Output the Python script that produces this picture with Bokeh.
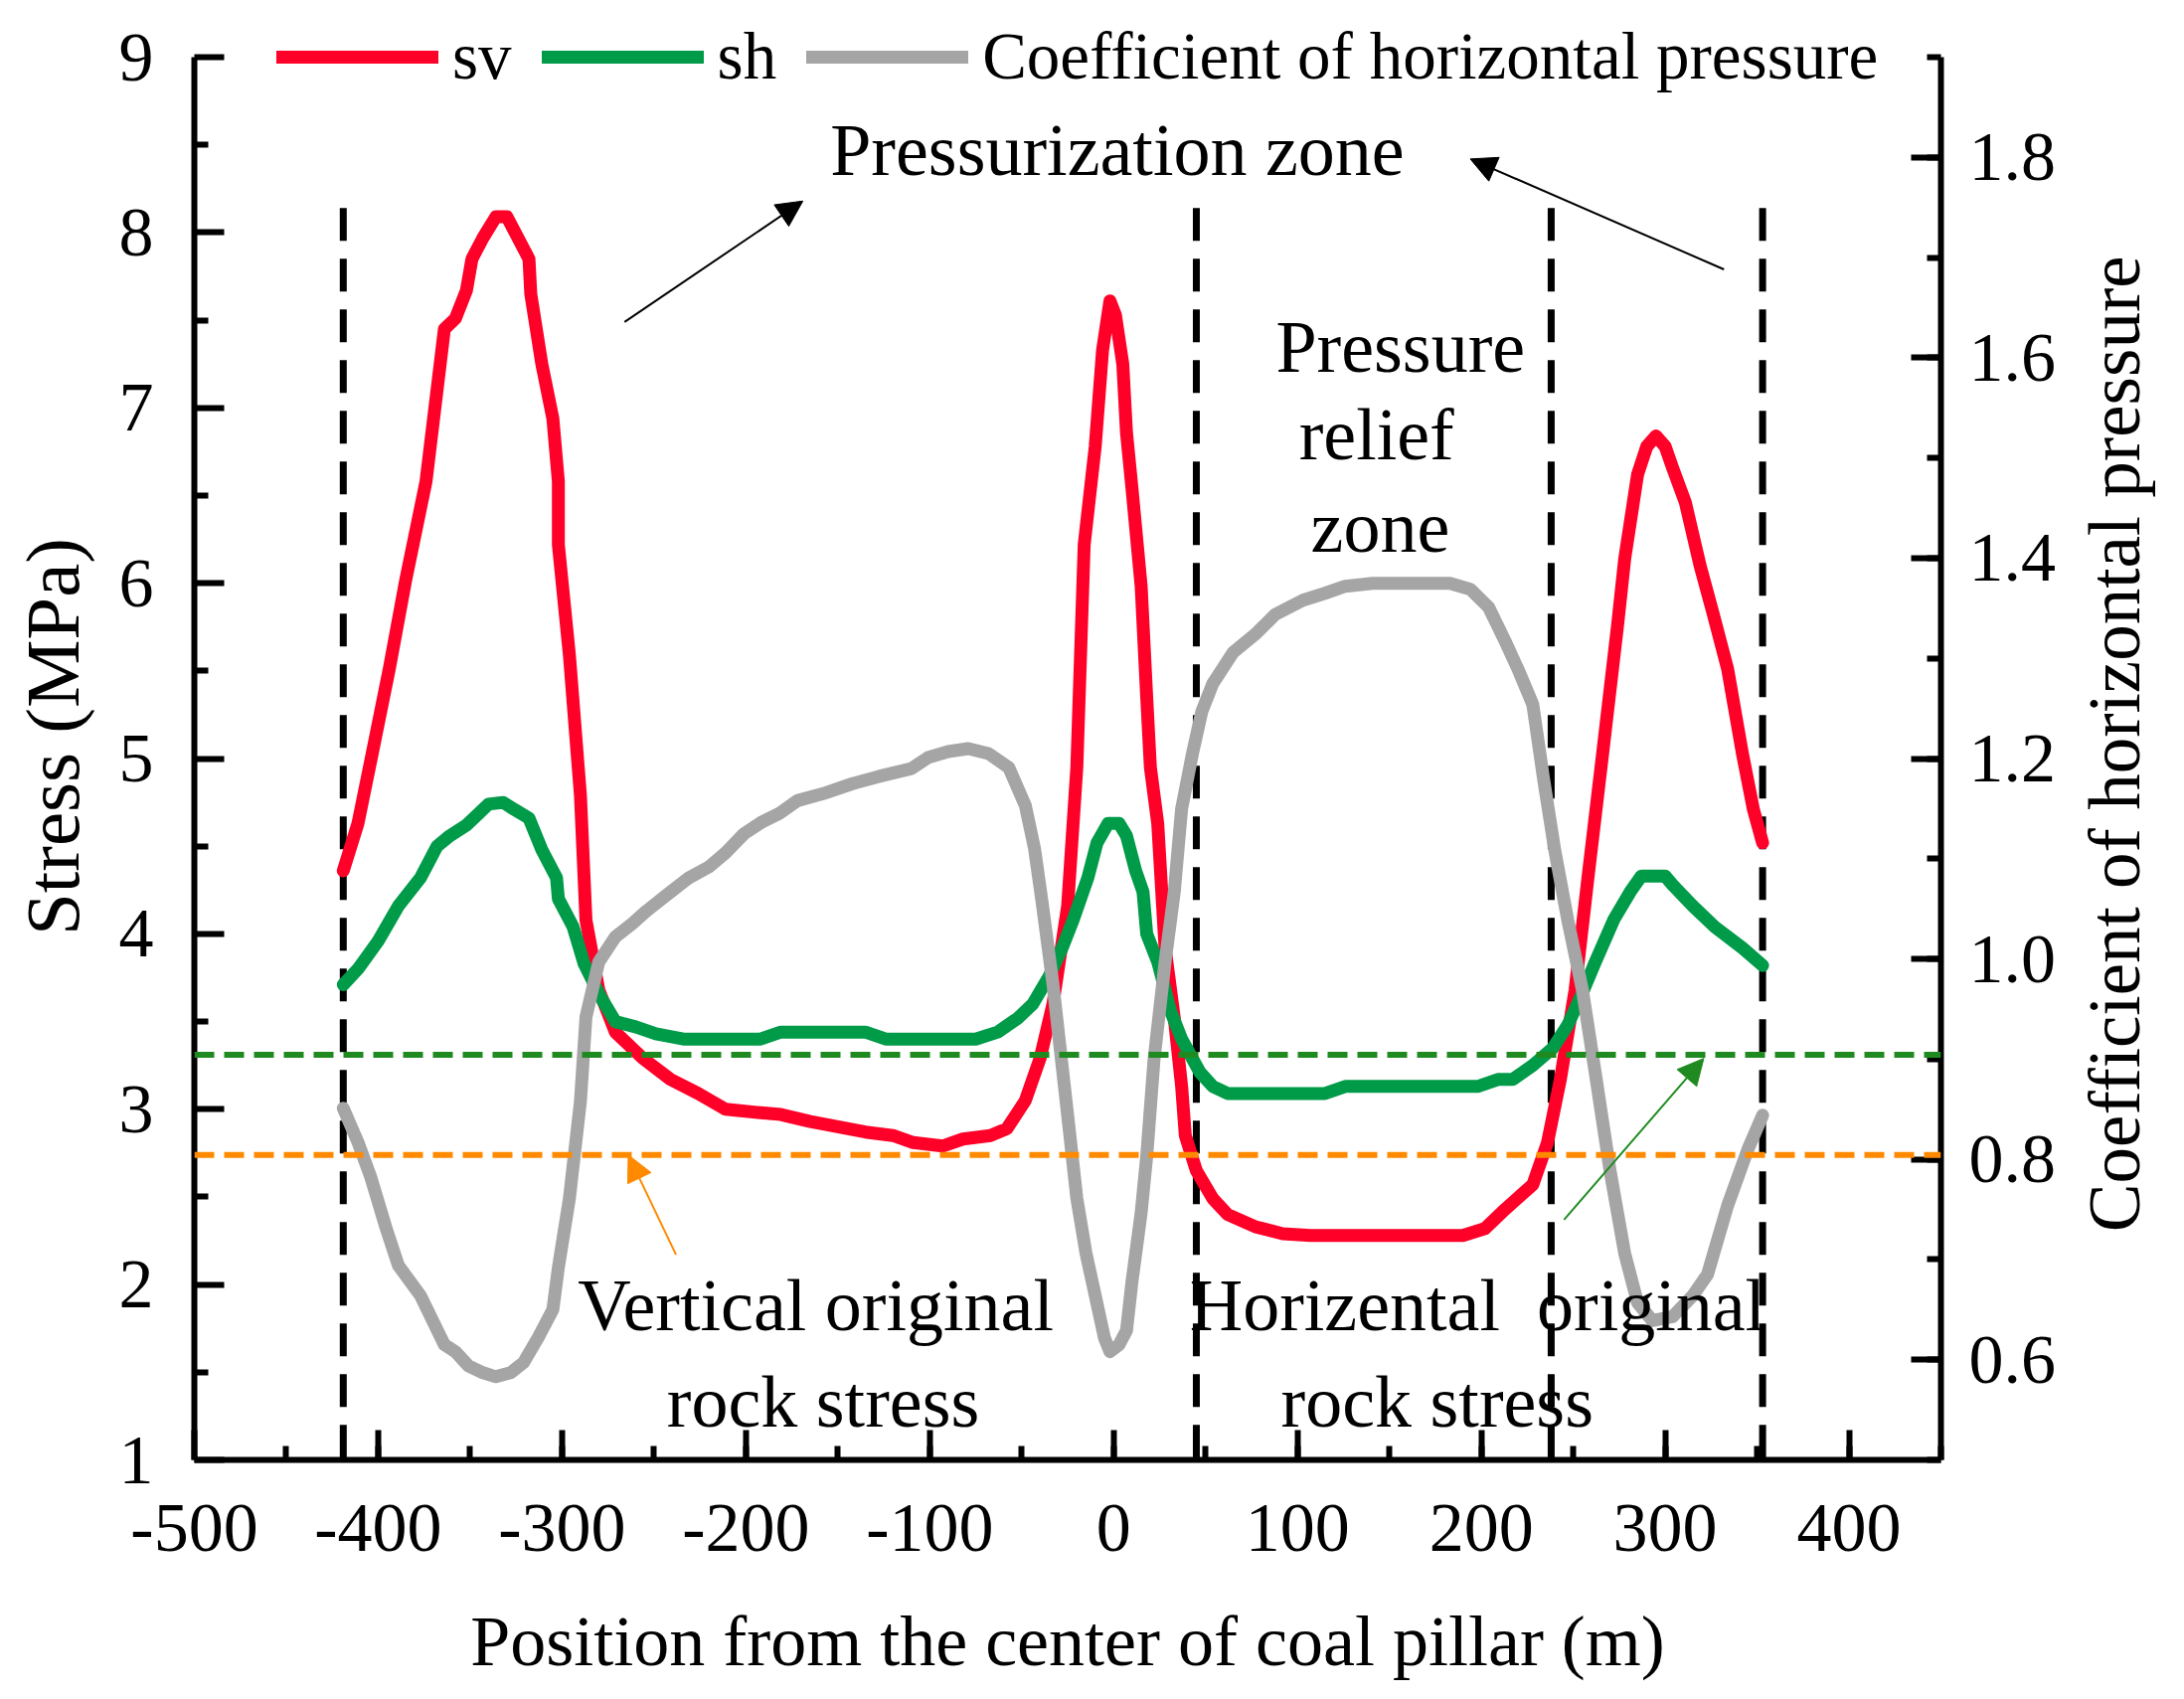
import math
from bokeh.plotting import figure
from bokeh.layouts import row
from bokeh.models import (Range1d, LinearAxis, FixedTicker, Span, Legend, LegendItem,
                          Arrow, NormalHead)
from bokeh.core.properties import value
from bokeh.embed import file_html
from bokeh.resources import INLINE

# sv (vertical stress, MPa)
sv_points = [(-419, 4.36), (-411, 4.63), (-404, 4.99), (-394, 5.51), (-385, 6.02), (-374, 6.58),
             (-364, 7.45), (-358, 7.51), (-352, 7.67), (-349, 7.85), (-343, 7.97), (-336, 8.09),
             (-330, 8.09), (-323, 7.95), (-318, 7.85), (-317, 7.65), (-311, 7.25), (-305, 6.94),
             (-302, 6.58), (-302, 6.22), (-296, 5.59), (-290, 4.79), (-287, 4.08), (-280, 3.68),
             (-271, 3.44), (-256, 3.29), (-241, 3.17), (-226, 3.09), (-211, 3.00), (-192, 2.98),
             (-181, 2.97), (-165, 2.93), (-150, 2.90), (-135, 2.87), (-120, 2.85), (-109, 2.81),
             (-93, 2.79), (-82, 2.83), (-67, 2.85), (-58, 2.89), (-48, 3.05), (-40, 3.29),
             (-33, 3.60), (-25, 4.16), (-20, 4.95), (-16, 6.22), (-10, 6.78), (-6, 7.33),
             (-2, 7.61), (1, 7.53), (5, 7.25), (7, 6.86), (10, 6.54), (15, 5.98), (18, 5.35),
             (20, 4.95), (24, 4.63), (28, 3.92), (33, 3.52), (37, 3.13), (39, 2.85), (45, 2.65),
             (54, 2.49), (62, 2.40), (77, 2.33), (92, 2.29), (107, 2.28), (153, 2.28),
             (190, 2.28), (202, 2.32), (213, 2.43), (228, 2.57), (236, 2.81), (243, 3.17),
             (251, 3.68), (258, 4.32), (266, 5.03), (274, 5.75), (278, 6.14), (285, 6.62),
             (290, 6.78), (295, 6.84), (300, 6.78), (304, 6.66), (311, 6.46), (319, 6.10),
             (326, 5.83), (334, 5.51), (342, 5.03), (348, 4.71), (353, 4.52)]

# sh (horizontal stress, MPa)
sh_points = [(-419, 3.71), (-411, 3.80), (-400, 3.96), (-389, 4.16), (-377, 4.32), (-368, 4.50),
             (-361, 4.56), (-352, 4.62), (-347, 4.67), (-340, 4.74), (-332, 4.75), (-326, 4.71),
             (-318, 4.66), (-311, 4.48), (-303, 4.32), (-302, 4.20), (-294, 4.04), (-288, 3.83),
             (-279, 3.64), (-271, 3.50), (-260, 3.47), (-249, 3.43), (-234, 3.40), (-192, 3.40),
             (-181, 3.44), (-135, 3.44), (-124, 3.40), (-75, 3.40), (-63, 3.44), (-52, 3.52),
             (-44, 3.60), (-35, 3.76), (-28, 3.92), (-22, 4.08), (-14, 4.32), (-9, 4.52),
             (-3, 4.63), (3, 4.63), (7, 4.56), (12, 4.36), (16, 4.24), (18, 4.00), (24, 3.84),
             (31, 3.56), (37, 3.40), (47, 3.21), (54, 3.13), (62, 3.09), (115, 3.09),
             (126, 3.13), (153, 3.13), (198, 3.13), (209, 3.17), (217, 3.17), (228, 3.25),
             (239, 3.35), (247, 3.48), (254, 3.64), (262, 3.84), (272, 4.08), (281, 4.24),
             (287, 4.33), (300, 4.33), (304, 4.28), (315, 4.16), (327, 4.04), (342, 3.92),
             (353, 3.82)]

# coefficient of horizontal pressure (right axis)
coef_points = [(-419, 0.851), (-411, 0.817), (-404, 0.782), (-396, 0.733), (-389, 0.694),
               (-377, 0.664), (-364, 0.615), (-358, 0.608), (-351, 0.594), (-343, 0.587),
               (-336, 0.583), (-328, 0.587), (-321, 0.597), (-313, 0.622), (-305, 0.650),
               (-302, 0.692), (-296, 0.761), (-290, 0.858), (-287, 0.942), (-280, 0.997),
               (-271, 1.022), (-262, 1.035), (-254, 1.048), (-243, 1.064), (-231, 1.081),
               (-220, 1.092), (-211, 1.106), (-201, 1.125), (-191, 1.137), (-182, 1.145),
               (-172, 1.158), (-158, 1.165), (-142, 1.175), (-128, 1.182), (-110, 1.190),
               (-101, 1.201), (-90, 1.207), (-79, 1.210), (-68, 1.205), (-57, 1.191),
               (-48, 1.153), (-43, 1.110), (-39, 1.058), (-33, 0.975),
               (-25, 0.844), (-20, 0.761), (-15, 0.706), (-10, 0.664), (-5, 0.622),
               (-2, 0.608), (3, 0.615), (7, 0.629), (10, 0.678), (15, 0.747), (18, 0.803),
               (22, 0.900), (28, 0.997), (33, 1.067), (37, 1.150), (43, 1.206), (48, 1.247),
               (54, 1.275), (65, 1.306), (77, 1.324), (88, 1.344), (103, 1.358), (115, 1.365),
               (126, 1.372), (141, 1.375), (183, 1.375), (194, 1.369), (204, 1.351),
               (213, 1.317), (220, 1.289), (228, 1.254), (234, 1.178), (240, 1.108),
               (247, 1.039), (255, 0.969), (262, 0.886), (270, 0.789), (278, 0.706),
               (285, 0.657), (293, 0.639), (304, 0.643), (315, 0.664), (323, 0.685),
               (334, 0.754), (345, 0.810), (353, 0.844)]

zone_bounds = [-419, 45, 238, 353]
zone_top = 8.14
sv_original = 2.74
sh_original = 3.31

x_ticks = [-500, -400, -300, -200, -100, 0, 100, 200, 300, 400]
y_ticks = [1, 2, 3, 4, 5, 6, 7, 8, 9]
coef_ticks = [0.6, 0.8, 1.0, 1.2, 1.4, 1.6, 1.8]

FONT = "Liberation Serif"
RED = "#FF0028"
GREEN = "#009B48"
GRAY = "#A5A5A5"
DASH_GREEN = "#1F8A1F"
DASH_ORANGE = "#FF8A00"

# a little head room above 9 so the legend is not clipped; axes stop at 9 / 1.9
Y_TOP = 9.25
COEF_TOP = 1.9 + (Y_TOP - 9) * 1.4 / 8

TOTAL_W, H = 2181, 1693
SIDE_W = 108   # strip on the right that carries the rotated right-axis title


def unzip(points):
    return [a for a, _ in points], [b for _, b in points]


p = figure(width=TOTAL_W - SIDE_W, height=H, x_range=Range1d(-500, 450),
           y_range=Range1d(1, Y_TOP), output_backend="svg", toolbar_location=None,
           min_border_left=195, min_border_right=121, min_border_top=13, min_border_bottom=224)
p.extra_y_ranges = {"coef": Range1d(0.5, COEF_TOP)}
p.grid.visible = False
p.outline_line_color = None

coef_axis = LinearAxis(y_range_name="coef")
p.add_layout(coef_axis, "right")


def style_axis(ax):
    ax.axis_line_width = 6
    ax.major_tick_line_width = 6
    ax.minor_tick_line_width = 6
    ax.major_tick_in = 30
    ax.major_tick_out = 0
    ax.minor_tick_in = 14
    ax.minor_tick_out = 0
    ax.major_label_text_font = FONT
    ax.major_label_text_font_size = "70px"
    ax.major_label_text_color = "black"
    ax.axis_label_text_font = FONT
    ax.axis_label_text_font_size = "72px"
    ax.axis_label_text_font_style = "normal"
    ax.axis_label_text_color = "black"


xa = p.xaxis[0]
style_axis(xa)
xa.ticker = FixedTicker(ticks=x_ticks, minor_ticks=list(range(-450, 451, 50)))
xa.major_label_overrides = {t: str(t) for t in x_ticks}
xa.major_label_standoff = 45
xa.axis_label = "Position from the center of coal pillar (m)"
xa.axis_label_standoff = 48

ya = p.yaxis[0]
style_axis(ya)
ya.bounds = (1, 9)
ya.ticker = FixedTicker(ticks=y_ticks, minor_ticks=[t + 0.5 for t in y_ticks[:-1]])
ya.major_label_standoff = 41
ya.axis_label = "Stress (MPa)"
ya.axis_label_text_font_size = "77px"
ya.axis_label_standoff = 21

style_axis(coef_axis)
coef_axis.bounds = (0.5, 1.9)
coef_axis.ticker = FixedTicker(ticks=coef_ticks,
                               minor_ticks=[round(0.5 + 0.1 * i, 1) for i in range(15)])
coef_axis.major_label_overrides = {t: f"{t:.1f}" for t in coef_ticks}
coef_axis.major_label_standoff = 28

# reference lines
p.add_layout(Span(location=sh_original, dimension="width", line_color=DASH_GREEN,
                  line_width=6, line_dash="20 10"))
p.add_layout(Span(location=sv_original, dimension="width", line_color=DASH_ORANGE,
                  line_width=6, line_dash="20 10"))
p.segment(x0=zone_bounds, y0=[zone_top] * 4, x1=zone_bounds, y1=[1] * 4,
          line_color="black", line_width=7, line_dash="33 18")

sx, sy = unzip(sv_points)
hx, hy = unzip(sh_points)
cx, cy = unzip(coef_points)
r_sv = p.line(sx, sy, line_color=RED, line_width=13, line_join="round", line_cap="round")
r_sh = p.line(hx, hy, line_color=GREEN, line_width=13, line_join="round", line_cap="round")
r_coef = p.line(cx, cy, line_color=GRAY, line_width=13, line_join="round", line_cap="round",
                y_range_name="coef")

legend = Legend(items=[LegendItem(label="sv", renderers=[r_sv]),
                       LegendItem(label="sh", renderers=[r_sh]),
                       LegendItem(label="Coefficient of horizontal pressure", renderers=[r_coef])],
                orientation="horizontal", location=(83, 1373))
legend.label_text_font = FONT
legend.label_text_font_size = "67px"
legend.label_text_color = "black"
legend.glyph_width = 163
legend.glyph_height = 20
legend.label_standoff = 14
legend.spacing = 30
legend.padding = 0
legend.margin = 0
legend.border_line_color = None
legend.background_fill_alpha = 0
p.add_layout(legend)

# annotations (baseline positions)
p.text(x=[2, 156, 143, 145, -162, -158, 198, 176],
       y=[8.47, 7.35, 6.85, 6.32, 1.88, 1.33, 1.88, 1.33],
       text=["Pressurization zone", "Pressure", "relief", "zone",
             "Vertical original", "rock stress", "Horizental\u00a0 original", "rock stress"],
       text_font=value(FONT), text_font_size="74px", text_color="black",
       text_align="center", text_baseline="alphabetic")

for (x0, y0, x1, y1, col) in [(-266, 7.49, -169, 8.18, "black"),
                              (332, 7.79, 194, 8.42, "black"),
                              (-238, 2.17, -264, 2.74, DASH_ORANGE),
                              (245, 2.37, 321, 3.29, DASH_GREEN)]:
    p.add_layout(Arrow(end=NormalHead(size=26, fill_color=col, line_color=col, line_width=1),
                       x_start=x0, y_start=y0, x_end=x1, y_end=y1,
                       line_color=col, line_width=2))

# right-axis title, read bottom to top
side = figure(width=SIDE_W, height=H, x_range=Range1d(0, SIDE_W), y_range=Range1d(0, H),
              output_backend="svg", toolbar_location=None, x_axis_type=None, y_axis_type=None,
              min_border=0)
side.grid.visible = False
side.outline_line_color = None
side.text(x=[54], y=[838], text=["Coefficient of horizontal pressure"], angle=math.pi / 2,
          text_font=value(FONT), text_font_size="73px", text_color="black",
          text_align="center", text_baseline="middle")

layout = row(p, side, spacing=0)
open("out.html", "w").write(file_html(layout, INLINE))
